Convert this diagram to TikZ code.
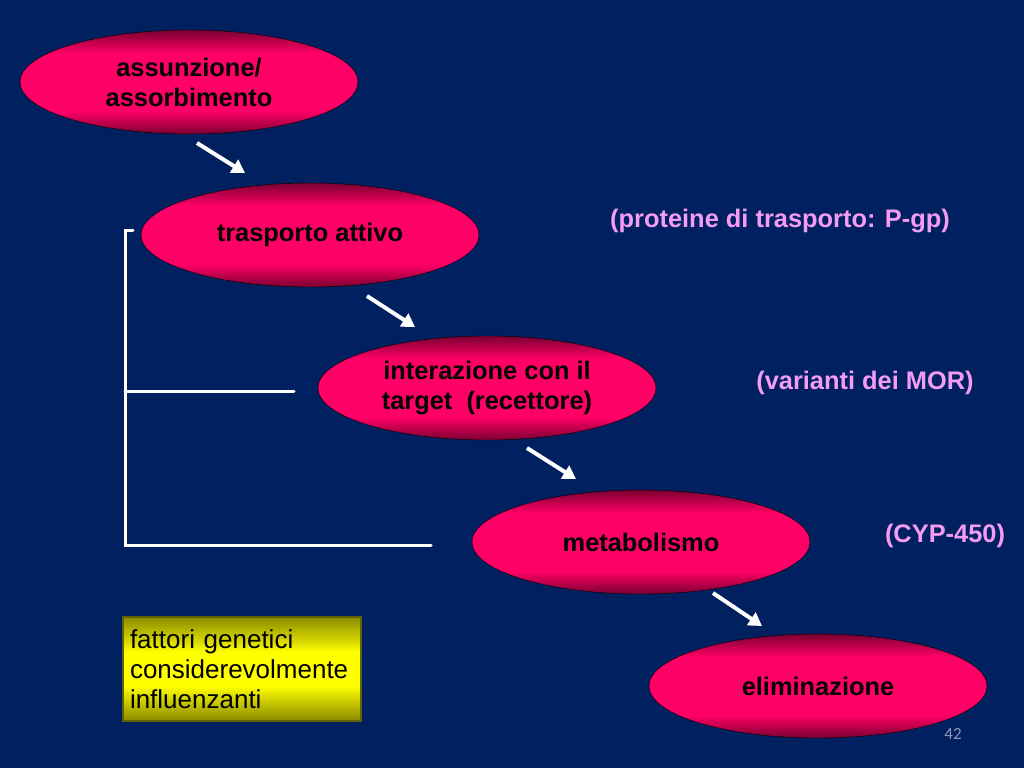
\documentclass[tikz,border=0pt]{standalone}
\usepackage{fontspec}
\setmainfont{Liberation Sans}
\newfontfamily\numfont{Carlito}
\usetikzlibrary{shapes.geometric,arrows.meta}
\definecolor{navy}{HTML}{002060}
\definecolor{rosa}{HTML}{FF0066}
\definecolor{rosascuro}{HTML}{7A0030}
\definecolor{lilla}{HTML}{F49BF4}
\definecolor{oliva}{HTML}{8A8A00}
\definecolor{giallo}{HTML}{FFFF00}
\definecolor{numgrigio}{HTML}{8C96B8}
\pgfdeclareverticalshading{tappashade}{100bp}{color(0bp)=(rosascuro); color(25bp)=(rosascuro); color(36bp)=(rosa); color(64bp)=(rosa); color(75bp)=(rosascuro); color(100bp)=(rosascuro)}
\pgfdeclareverticalshading{boxshade}{100bp}{color(0bp)=(oliva); color(25bp)=(oliva); color(42bp)=(giallo); color(58bp)=(giallo); color(75bp)=(oliva); color(100bp)=(oliva)}

\begin{document}
\begin{tikzpicture}[x=1pt,y=-1pt,
   tappa/.style={ellipse,draw=black,thin,shading=tappashade,minimum width=338pt,minimum height=104pt,inner sep=0pt,align=center,font=\fontsize{25.4}{30}\selectfont\bfseries},
   nota/.style={text=lilla,font=\fontsize{25.4}{30}\selectfont\bfseries},
   freccia/.style={white,line width=4pt,-{Triangle[width=15pt,length=13pt]}},
   staffa/.style={white,line width=3pt,line cap=round}]
   \fill[navy] (0,0) rectangle (1024,768);
   \useasboundingbox (0,0) rectangle (1024,768);
   % tappe
   \node[tappa] (assunzione) at (189,82) {assunzione/\\assorbimento};
   \node[tappa] (trasporto) at (310,235) {trasporto attivo};
   \node[tappa] (interazione) at (487,388) {interazione con il\\target\ \ (recettore)};
   \node[tappa] (metabolismo) at (641,542) {metabolismo};
   \node[tappa] (eliminazione) at (818,686) {eliminazione};
   % frecce
   \coordinate (f1a) at (197,143); \coordinate (f1b) at (245,173);
   \coordinate (f2a) at (367,296); \coordinate (f2b) at (415,327);
   \coordinate (f3a) at (527,448); \coordinate (f3b) at (576,479);
   \coordinate (f4a) at (713,593); \coordinate (f4b) at (762,626);
   \draw[freccia] (f1a) -- (f1b);
   \draw[freccia] (f2a) -- (f2b);
   \draw[freccia] (f3a) -- (f3b);
   \draw[freccia] (f4a) -- (f4b);
   % staffa
   \coordinate (s1) at (133,230);
   \coordinate (s2) at (125,230);
   \coordinate (s3) at (125,545);
   \coordinate (s4) at (431,545);
   \coordinate (s5) at (125,391);
   \coordinate (s6) at (294,391);
   \draw[staffa] (s1) -- (s2) -- (s3) -- (s4);
   \draw[staffa] (s5) -- (s6);
   % note
   \node[nota] (pgp) at (780,221) {(proteine di trasporto: P-gp)};
   \node[nota] (mor) at (865,383) {(varianti dei MOR)};
   \node[nota] (cyp) at (945,536) {(CYP-450)};
   \node[draw=oliva!70!black,line width=1.2pt,shading=boxshade,minimum width=238pt,minimum height=104pt,text width=224pt,inner xsep=7pt,align=left,font=\fontsize{26}{30}\selectfont] (fattori) at (242,669) {fattori genetici\\considerevolmente\\influenzanti};
   \node[text=numgrigio,font=\numfont\fontsize{17}{20}\selectfont] (pagina) at (953,734) {42};
\end{tikzpicture}
\end{document}
